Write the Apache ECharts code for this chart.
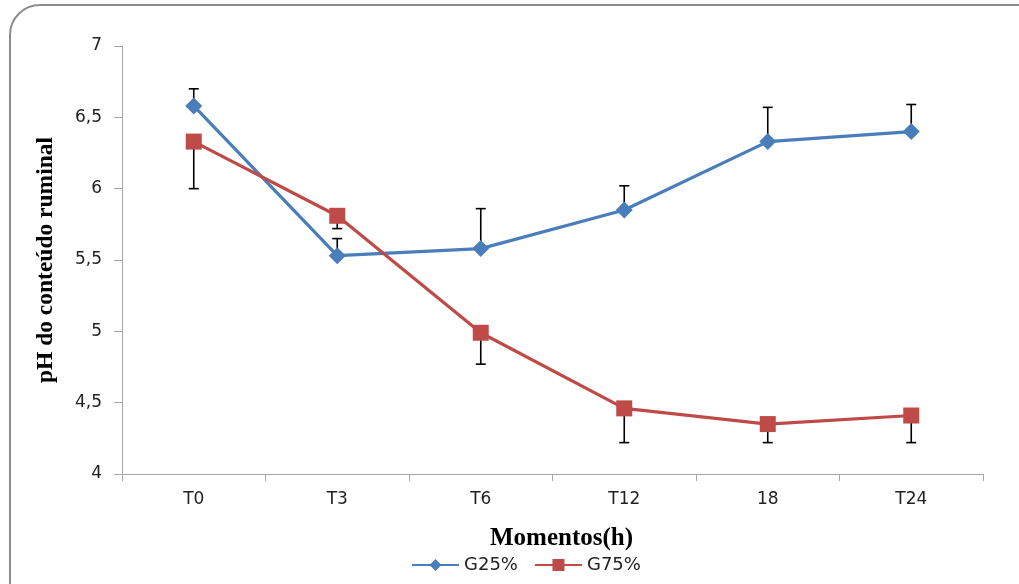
<!DOCTYPE html>
<html><head><meta charset="utf-8">
<script src="https://cdn.jsdelivr.net/npm/echarts@6/dist/echarts.min.js"></script>
<style>html,body{margin:0;padding:0;background:#fff}#c{width:1019px;height:584px}</style>
</head><body><div id="c"></div>
<script>
var categories = ['T0', 'T3', 'T6', 'T12', '18', 'T24'];
var g25 = [6.58, 5.53, 5.58, 5.85, 6.33, 6.40];
var g25Upper = [6.70, 5.65, 5.86, 6.02, 6.57, 6.59];
var g75 = [6.33, 5.81, 4.99, 4.46, 4.35, 4.41];
var g75Lower = [6.00, 5.72, 4.77, 4.22, 4.22, 4.22];
var yTicks = [4, 4.5, 5, 5.5, 6, 6.5, 7];

var chart = echarts.init(document.getElementById('c'));
function errData(vals, ends) {
  return vals.map(function (v, i) { return [i, v, ends[i]]; });
}
function errRender(params, api) {
  var x = api.value(0);
  var p1 = api.coord([x, api.value(1)]);
  var p2 = api.coord([x, api.value(2)]);
  var hw = 5;
  var st = { stroke: '#000', lineWidth: 1.6 };
  return { type: 'group', children: [
    { type: 'line', shape: { x1: p1[0], y1: p1[1], x2: p2[0], y2: p2[1] }, style: st },
    { type: 'line', shape: { x1: p2[0] - hw, y1: p2[1], x2: p2[0] + hw, y2: p2[1] }, style: st }
  ]};
}
var labelFont = 'DejaVu Sans';
chart.setOption({
  animation: false,
  graphic: [{ type: 'rect', shape: { x: 10, y: 5, width: 1060, height: 640, r: 30 },
    style: { fill: 'none', stroke: '#8c8c8c', lineWidth: 2 }, z: -10 }],
  grid: { left: 122, right: 36, top: 46, bottom: 110 },
  legend: {
    data: ['G25%', 'G75%'], bottom: 5, left: 406, itemGap: 16, itemWidth: 47, itemHeight: 15,
    padding: 5,
    textStyle: { fontFamily: labelFont, fontSize: 18, color: '#222' }
  },
  xAxis: {
    type: 'category', data: categories, boundaryGap: true,
    name: 'Momentos(h)', nameLocation: 'middle', nameGap: 52,
    nameTextStyle: { fontFamily: 'Liberation Serif', fontWeight: 'bold', fontSize: 25, color: '#000',
      padding: [0, 0, 0, 18] },
    axisLine: { lineStyle: { color: '#a6a6a6', width: 1 } },
    axisTick: { show: true, alignWithLabel: false, length: 7, lineStyle: { color: '#a6a6a6' } },
    axisLabel: { fontFamily: labelFont, fontSize: 17, color: '#222', margin: 17 }
  },
  yAxis: {
    type: 'value', min: 4, max: 7, interval: 0.5,
    name: 'pH do conteúdo ruminal', nameLocation: 'middle', nameGap: 64,
    nameTextStyle: { fontFamily: 'Liberation Serif', fontWeight: 'bold', fontSize: 23.5, color: '#000' },
    axisLine: { show: true, lineStyle: { color: '#a6a6a6', width: 1 } },
    axisTick: { show: true, length: 8, lineStyle: { color: '#a6a6a6' } },
    splitLine: { show: false },
    axisLabel: { fontFamily: labelFont, fontSize: 17, color: '#222', margin: 20,
      formatter: function (v) { return String(v).replace('.', ','); } }
  },
  series: [
    { name: 'G25%', type: 'line', data: g25, symbol: 'diamond', symbolSize: 17,
      lineStyle: { color: '#4a7ebb', width: 3.2 }, itemStyle: { color: '#4a7ebb' }, z: 3 },
    { name: 'G75%', type: 'line', data: g75, symbol: 'rect', symbolSize: 16,
      lineStyle: { color: '#be4b48', width: 3.2 }, itemStyle: { color: '#be4b48' }, z: 3 },
    { type: 'custom', name: 'errG25', renderItem: errRender, data: errData(g25, g25Upper),
      encode: { x: 0, y: [1, 2] }, z: 2, silent: true },
    { type: 'custom', name: 'errG75', renderItem: errRender, data: errData(g75, g75Lower),
      encode: { x: 0, y: [1, 2] }, z: 2, silent: true }
  ]
});
</script></body></html>
